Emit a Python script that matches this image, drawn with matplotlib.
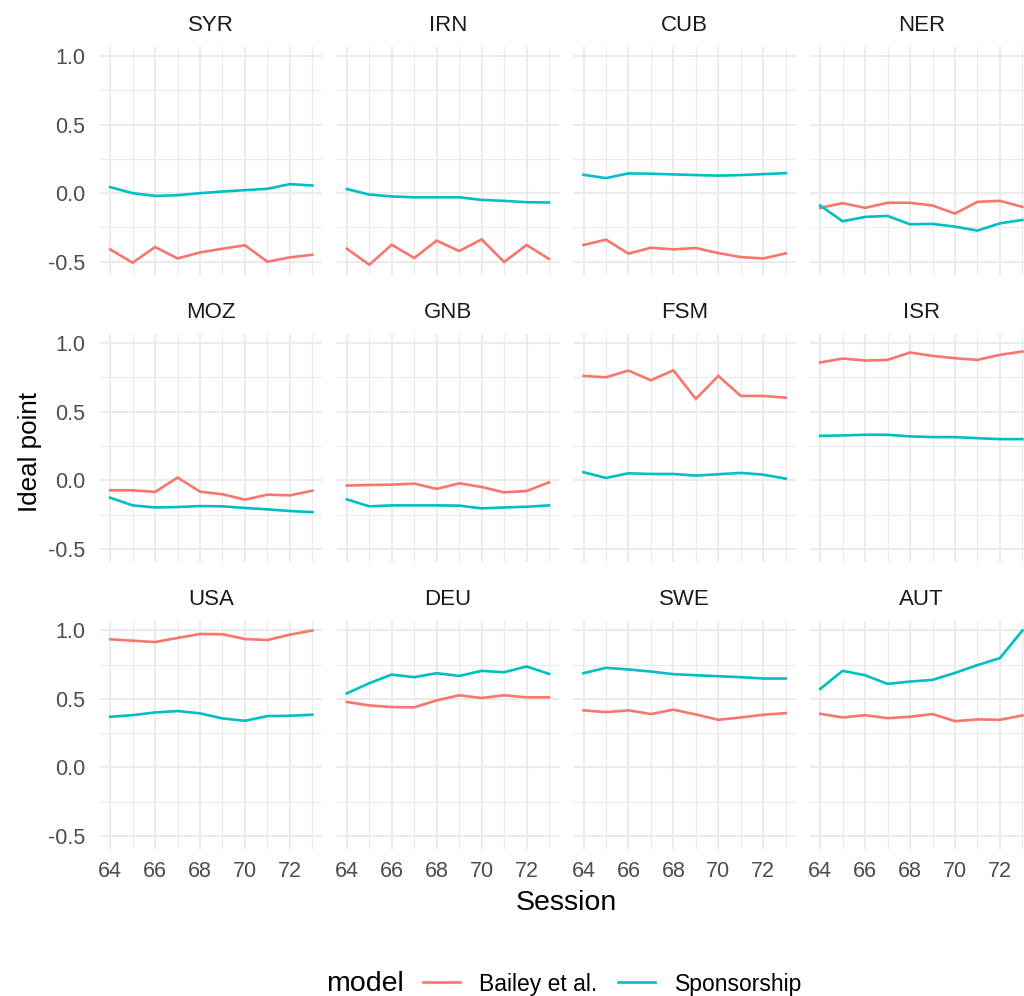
import numpy as np
import matplotlib
matplotlib.use('Agg')
import matplotlib.pyplot as plt
from matplotlib.ticker import MultipleLocator
from matplotlib.lines import Line2D

plt.rcParams['font.family'] = ['Liberation Sans', 'DejaVu Sans']
plt.rcParams['axes.unicode_minus'] = False

# Data
sessions = [64, 65, 66, 67, 68, 69, 70, 71, 72, 73]
countries = ['SYR', 'IRN', 'CUB', 'NER',
             'MOZ', 'GNB', 'FSM', 'ISR',
             'USA', 'DEU', 'SWE', 'AUT']

bailey = {
    'SYR': [-0.41, -0.507, -0.393, -0.476, -0.432, -0.405, -0.38, -0.50, -0.468, -0.449],
    'IRN': [-0.405, -0.522, -0.376, -0.473, -0.346, -0.422, -0.337, -0.502, -0.378, -0.48],
    'CUB': [-0.378, -0.339, -0.441, -0.398, -0.41, -0.40, -0.437, -0.466, -0.476, -0.439],
    'NER': [-0.107, -0.073, -0.107, -0.07, -0.07, -0.09, -0.149, -0.063, -0.056, -0.10],
    'MOZ': [-0.073, -0.073, -0.085, 0.02, -0.083, -0.102, -0.141, -0.105, -0.11, -0.076],
    'GNB': [-0.039, -0.034, -0.032, -0.024, -0.063, -0.022, -0.049, -0.088, -0.078, -0.015],
    'FSM': [0.761, 0.751, 0.80, 0.729, 0.802, 0.593, 0.761, 0.615, 0.615, 0.602],
    'ISR': [0.859, 0.888, 0.873, 0.878, 0.932, 0.907, 0.89, 0.878, 0.915, 0.939],
    'USA': [0.934, 0.924, 0.914, 0.944, 0.973, 0.971, 0.936, 0.929, 0.968, 0.998],
    'DEU': [0.477, 0.452, 0.44, 0.438, 0.489, 0.526, 0.506, 0.526, 0.511, 0.511],
    'SWE': [0.416, 0.403, 0.416, 0.389, 0.421, 0.386, 0.347, 0.364, 0.384, 0.396],
    'AUT': [0.391, 0.364, 0.381, 0.359, 0.369, 0.389, 0.337, 0.35, 0.347, 0.379],
}

sponsorship = {
    'SYR': [0.044, 0.0, -0.02, -0.015, 0.0, 0.012, 0.022, 0.032, 0.066, 0.056],
    'IRN': [0.03, -0.01, -0.024, -0.03, -0.03, -0.03, -0.049, -0.056, -0.066, -0.068],
    'CUB': [0.134, 0.11, 0.144, 0.142, 0.137, 0.132, 0.128, 0.132, 0.139, 0.146],
    'NER': [-0.09, -0.205, -0.173, -0.166, -0.227, -0.224, -0.244, -0.273, -0.22, -0.195],
    'MOZ': [-0.127, -0.183, -0.198, -0.195, -0.188, -0.19, -0.202, -0.212, -0.224, -0.232],
    'GNB': [-0.139, -0.19, -0.183, -0.183, -0.183, -0.185, -0.205, -0.198, -0.193, -0.183],
    'FSM': [0.059, 0.017, 0.051, 0.046, 0.046, 0.034, 0.044, 0.054, 0.041, 0.012],
    'ISR': [0.324, 0.327, 0.332, 0.332, 0.32, 0.315, 0.315, 0.307, 0.30, 0.30],
    'USA': [0.369, 0.381, 0.401, 0.411, 0.394, 0.357, 0.34, 0.374, 0.377, 0.384],
    'DEU': [0.54, 0.614, 0.677, 0.658, 0.687, 0.667, 0.704, 0.694, 0.736, 0.682],
    'SWE': [0.687, 0.726, 0.714, 0.699, 0.68, 0.672, 0.665, 0.658, 0.648, 0.648],
    'AUT': [0.572, 0.704, 0.672, 0.609, 0.626, 0.638, 0.689, 0.746, 0.797, 0.998],
}

red = '#F8766D'
cyan = '#00BFC4'
grid_col = '#EBEBEB'

fig, axes = plt.subplots(3, 4, figsize=(10.24, 9.96), dpi=100, sharex=True, sharey=True,
                         gridspec_kw=dict(left=0.0977, right=1.0083, top=0.9531, bottom=0.1476,
                                          wspace=0.064, hspace=0.259))

for ax, c in zip(axes.flat, countries):
    ax.plot(sessions, bailey[c], color=red, lw=1.9, solid_joinstyle='miter')
    ax.plot(sessions, sponsorship[c], color=cyan, lw=1.9, solid_joinstyle='miter')
    ax.set_xlim(63.55, 73.45)
    ax.set_ylim(-0.595, 1.068)
    ax.xaxis.set_major_locator(MultipleLocator(2))
    ax.xaxis.set_minor_locator(MultipleLocator(1))
    ax.yaxis.set_major_locator(MultipleLocator(0.5))
    ax.yaxis.set_minor_locator(MultipleLocator(0.25))
    ax.grid(which='major', color=grid_col, lw=1.5)
    ax.grid(which='minor', color=grid_col, lw=0.8)
    ax.set_axisbelow(True)
    for s in ax.spines.values():
        s.set_visible(False)
    ax.tick_params(which='both', length=0, labelsize=15.5, labelcolor='#4D4D4D')
    ax.tick_params(axis='x', pad=8.5)
    ax.tick_params(axis='y', pad=10.5)
    ax.text(0.5, 1.094, c, transform=ax.transAxes, ha='center', va='center',
            fontsize=16, color='#1A1A1A')

fig.text(0.553, 1 - 903 / 996, 'Session', ha='center', va='center', fontsize=20.5)
fig.text(30 / 1024, 1 - 452 / 996, 'Ideal point', ha='center', va='center',
         rotation=90, fontsize=18.7)

# legend at the bottom, title on the left
fig.text(326 / 1024, 1 - 984 / 996, 'model', ha='left', va='center', fontsize=20.5)
handles = [Line2D([], [], color=red, lw=1.9), Line2D([], [], color=cyan, lw=1.9)]
fig.legend(handles, ['Bailey et al.', 'Sponsorship'], loc='center left',
           bbox_to_anchor=(423 / 1024, 1 - 984 / 996), ncol=2, frameon=False,
           fontsize=16.5, handlelength=1.6, handletextpad=0.86, columnspacing=0.9,
           borderpad=0, borderaxespad=0)

fig.savefig('out.png', dpi=100, facecolor='white')
